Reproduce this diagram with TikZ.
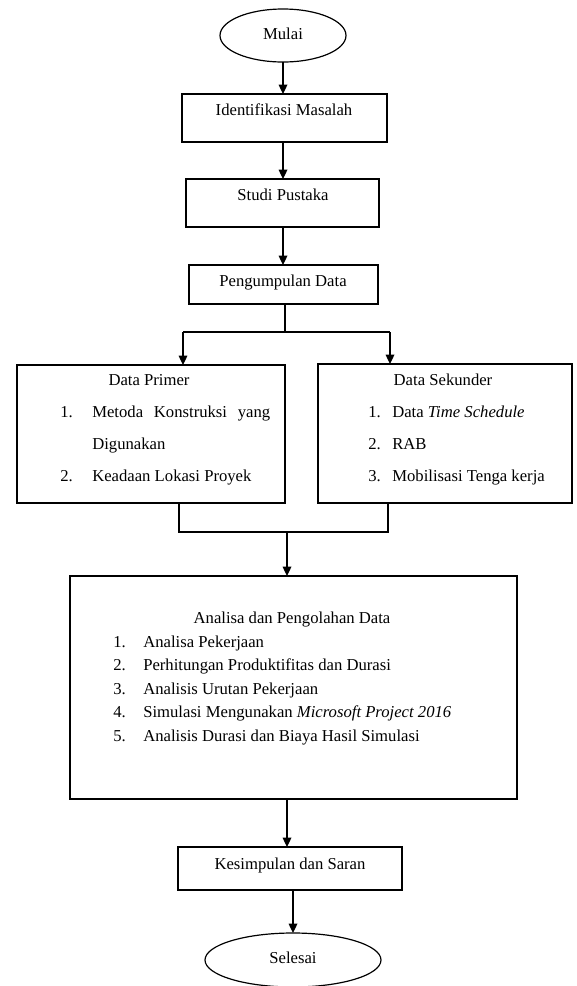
\documentclass[tikz,border=0pt]{standalone}
\usepackage{fontspec}
\setmainfont{Liberation Serif}
\usetikzlibrary{shapes.geometric,arrows.meta}
\begin{document}
\begin{tikzpicture}[x=0.75pt,y=-0.75pt,
  font=\fontsize{12.5}{15}\selectfont,
  boxwh/.style 2 args={draw,line width=0.9pt,inner sep=0pt,outer sep=0pt,minimum width=#1,minimum height=#2},
  ovalwh/.style 2 args={draw,ellipse,line width=0.9pt,inner sep=0pt,outer sep=0pt,minimum width=#1,minimum height=#2},
  txt/.style={inner sep=0pt,text height=1.6ex,text depth=0.4ex},
  ltxt/.style={txt,anchor=west},
  arr/.style={-{Triangle[length=7pt,width=6.5pt]},line width=0.9pt},
  ln/.style={line width=0.9pt}]
\useasboundingbox (0,0) rectangle (576,986);
% shapes
\node[ovalwh={94.5pt}{39.75pt}] (mulai) at (283,35.5) {};
\node[boxwh={153.75pt}{36pt}] (ident) at (284.5,118) {};
\node[boxwh={144.75pt}{36pt}] (studi) at (282.5,203) {};
\node[boxwh={141.75pt}{29.25pt}] (peng) at (283.5,284.5) {};
\node[boxwh={201pt}{103.5pt}] (primer) at (151,434) {};
\node[boxwh={190.5pt}{104.25pt}] (sek) at (445,433.5) {};
\node[boxwh={335.25pt}{167.25pt}] (anal) at (293.5,687.5) {};
\node[boxwh={168pt}{32.25pt}] (kes) at (290,868.5) {};
\node[ovalwh={132pt}{40.5pt}] (sel) at (293,960) {};
% texts
\node[txt] (tmulai) at (283,36) {Mulai};
\node[txt] (tident) at (284,112) {Identifikasi Masalah};
\node[txt] (tstudi) at (283,197) {Studi Pustaka};
\node[txt] (tpeng) at (283,283) {Pengumpulan Data};
\node[txt] (tprimer) at (149,382) {Data Primer};
\node[ltxt] (p1n) at (60,414) {1.};
\node[ltxt] (p1) at (92,414) {\makebox[133.5pt][s]{Metoda Konstruksi yang}};
\node[ltxt] (p1b) at (92,446) {Digunakan};
\node[ltxt] (p2n) at (60,478) {2.};
\node[ltxt] (p2) at (92,478) {Keadaan Lokasi Proyek};
\node[txt] (tsek) at (443,382) {Data Sekunder};
\node[ltxt] (s1n) at (368,414) {1.};
\node[ltxt] (s1) at (392,414) {Data \textit{Time Schedule}};
\node[ltxt] (s2n) at (368,446) {2.};
\node[ltxt] (s2) at (392,446) {RAB};
\node[ltxt] (s3n) at (368,478) {3.};
\node[ltxt] (s3) at (392,478) {Mobilisasi Tenga kerja};
\node[txt] (tanal) at (292,620) {Analisa dan Pengolahan Data};
\node[ltxt] (a1n) at (113,643.5) {1.};
\node[ltxt] (a1) at (143,643.5) {Analisa Pekerjaan};
\node[ltxt] (a2n) at (113,667) {2.};
\node[ltxt] (a2) at (143,667) {Perhitungan Produktifitas dan Durasi};
\node[ltxt] (a3n) at (113,690.5) {3.};
\node[ltxt] (a3) at (143,690.5) {Analisis Urutan Pekerjaan};
\node[ltxt] (a4n) at (113,714) {4.};
\node[ltxt] (a4) at (143,714) {Simulasi Mengunakan \textit{Microsoft Project 2016}};
\node[ltxt] (a5n) at (113,737.5) {5.};
\node[ltxt] (a5) at (143,737.5) {Analisis Durasi dan Biaya Hasil Simulasi};
\node[txt] (tkes) at (290,866) {Kesimpulan dan Saran};
\node[txt] (tsel) at (293,960) {Selesai};
% connectors
\draw[arr] (mulai.south) -- (mulai.south |- ident.north);
\draw[arr] (mulai.south |- ident.south) -- (mulai.south |- studi.north);
\draw[arr] (mulai.south |- studi.south) -- (mulai.south |- peng.north);
\coordinate (s) at (285,332);
\coordinate (sL) at (183,332);
\coordinate (sR) at (390,332);
\draw[ln] (peng.south -| s) -- (s);
\draw[ln] (sL) -- (sR);
\draw[arr] (sL) -- (sL |- primer.north);
\draw[arr] (sR) -- (sR |- sek.north);
\coordinate (mL) at (179,532);
\coordinate (mR) at (388,532);
\coordinate (mC) at (287,532);
\draw[ln] (mL |- primer.south) -- (mL) -- (mR) -- (mR |- sek.south);
\draw[arr] (mC) -- (mC |- anal.north);
\draw[arr] (anal.south -| mC) -- (kes.north -| mC);
\draw[arr] (kes.south -| sel.north) -- (sel.north);
\end{tikzpicture}
\end{document}
